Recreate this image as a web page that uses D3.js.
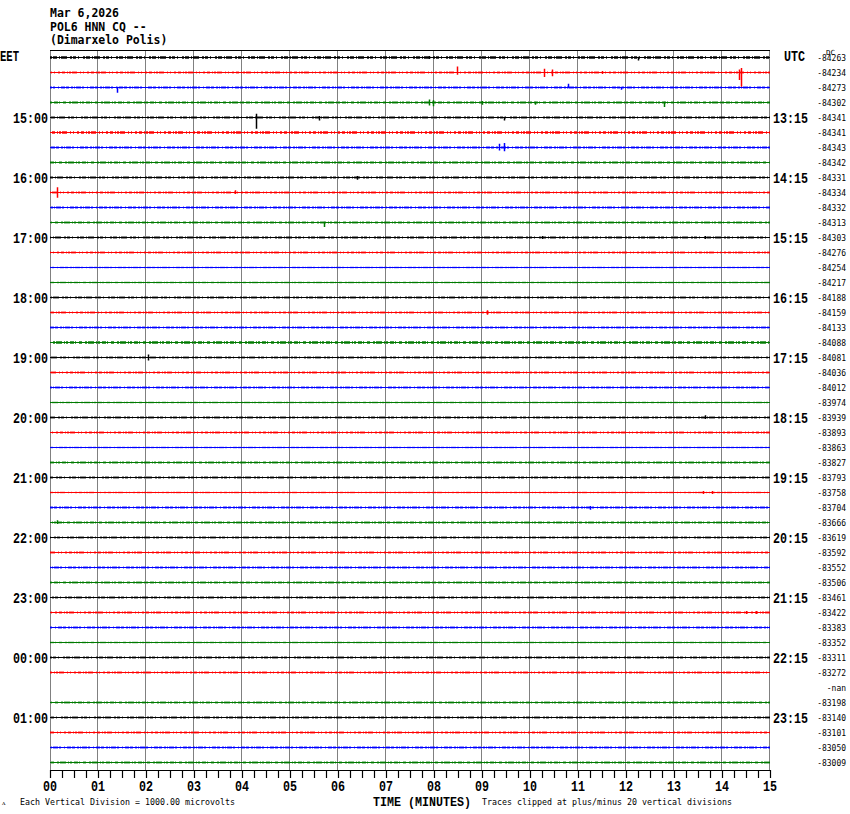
<!DOCTYPE html>
<html><head><meta charset="utf-8">
<script src="https://cdn.jsdelivr.net/npm/d3@7/dist/d3.min.js"></script>
<style>body{margin:0;background:#fff}svg{display:block}</style>
</head><body>
<svg id="c" width="850" height="814"></svg>
<script>
// ---- data ----
const headerLines = ["Mar 6,2026", "POL6 HNN CQ --", "(Dimarxelo Polis)"];
const leftHourLabels = ["15:00","16:00","17:00","18:00","19:00","20:00","21:00","22:00","23:00","00:00","01:00"];
const rightHourLabels = ["13:15","14:15","15:15","16:15","17:15","18:15","19:15","20:15","21:15","22:15","23:15"];
const minuteLabels = ["00","01","02","03","04","05","06","07","08","09","10","11","12","13","14","15"];
const dcValues = ["-84263","-84234","-84273","-84302","-84341","-84341","-84343","-84342",
  "-84331","-84334","-84332","-84313","-84303","-84276","-84254","-84217",
  "-84188","-84159","-84133","-84088","-84081","-84036","-84012","-83974",
  "-83939","-83893","-83863","-83827","-83793","-83758","-83704","-83666",
  "-83619","-83592","-83552","-83506","-83461","-83422","-83383","-83352",
  "-83311","-83272","-nan","-83198","-83140","-83101","-83050","-83009"];
// noise level of each trace (0..1), null = no data
const traceNoise = [0.9,0.6,0.7,0.8, 0.8,0.9,0.8,0.8, 0.8,0.6,0.7,0.6, 0.8,0.5,0.3,0.4,
  0.6,0.5,0.5,0.9, 0.5,0.6,0.5,0.4, 0.6,0.6,0.3,0.6, 0.6,0.4,0.7,0.6,
  0.5,0.6,0.6,0.5, 0.6,0.7,0.6,0.4, 0.6,0.6,null,0.5, 0.6,0.6,0.6,0.6];
// notable spikes: [row, minute, up (divisions), down (divisions)]
const spikes = [
  [0,7.9,0.1,0.1],[0,12.25,0.05,0.2],
  [1,8.48,0.4,0.15],[1,10.3,0.25,0.3],[1,10.45,0.2,0.25],[1,14.35,0.2,0.5],[1,14.4,0.3,0.95],[1,11.5,0.1,0.1],
  [2,1.4,0.05,0.35],[2,10.8,0.25,0.05],[2,11.9,0.05,0.15],
  [3,7.9,0.2,0.2],[3,7.97,0.15,0.25],[3,9.0,0.1,0.15],[3,12.8,0.05,0.3],[3,10.1,0.05,0.15],
  [4,4.3,0.25,0.75],[4,5.6,0.1,0.2],[4,9.45,0.05,0.2],
  [6,9.35,0.25,0.2],[6,9.45,0.3,0.25],
  [8,6.4,0.1,0.15],
  [9,0.15,0.35,0.35],[9,3.85,0.15,0.1],
  [11,5.7,0.05,0.3],
  [12,10.25,0.1,0.1],[12,13.65,0.1,0.1],
  [17,9.1,0.15,0.15],
  [20,2.05,0.2,0.2],
  [24,13.65,0.15,0.1],
  [29,13.6,0.1,0.1],[29,13.8,0.1,0.1],
  [30,11.25,0.1,0.15],
  [31,0.15,0.15,0.1],
  [37,14.5,0.1,0.1],[37,14.7,0.1,0.1]
];
const traceColors = ["#000000","#ff0000","#0000ff","#007a00"];
const footerLeft = "Each Vertical Division = 1000.00 microvolts";
const footerMid = "TIME (MINUTES)";
const footerRight = "Traces clipped at plus/minus 20 vertical divisions";

// ---- drawing ----
const svg = d3.select("#c");
const x = d3.scaleLinear().domain([0,15]).range([50,770]);
const rowY = d3.scaleLinear().domain([0,47]).range([57.5,762.5]);
const div = d3.scaleLinear().domain([-1,1]).range([15,-15]);
const mono = "'DejaVu Sans Mono', monospace";
const serifB = "'Liberation Mono', 'DejaVu Sans Mono', monospace";

// header
headerLines.forEach((t,i)=>{
  svg.append("text").attr("x",50).attr("y",[17,31,44][i]).text(t)
    .attr("font-family",mono).attr("font-weight","bold").attr("font-size",12)
    .attr("textLength",t.length*6.9).attr("lengthAdjust","spacingAndGlyphs");
});

// grid verticals
svg.append("g").selectAll("line").data(d3.range(0,16)).join("line")
  .attr("x1",d=>Math.round(x(d))-0.5+(d===0?1:0)).attr("x2",d=>Math.round(x(d))-0.5+(d===0?1:0))
  .attr("y1",50).attr("y2",770).attr("stroke","#808080").attr("stroke-width",1);
// top border
svg.append("line").attr("x1",x(0)).attr("x2",x(15)).attr("y1",50.5).attr("y2",50.5).attr("stroke","#000");

// traces
const dashPatterns = ["2,1,4,2,1,1,6,3,2,1,3,2,1,4","3,2,1,1,2,1,5,3,1,2,1,3,2,2","1,1,5,1,2,3,1,2,4,1,3,2,2,1","3,3,2,1,6,2,1,1,2,2,4,1,1,3"];
const tg = svg.append("g");
traceNoise.forEach((n,i)=>{
  if(n===null) return;
  const c = traceColors[i%4], y = rowY(i);
  tg.append("line").attr("x1",x(0)).attr("x2",x(15)).attr("y1",y).attr("y2",y)
    .attr("stroke",c).attr("stroke-width",1);
  tg.append("line").attr("x1",x(0)).attr("x2",x(15)).attr("y1",y).attr("y2",y)
    .attr("stroke",c).attr("stroke-width",1.2+1.3*n)
    .attr("stroke-dasharray",dashPatterns[i%4]).attr("stroke-dashoffset",i*17)
    .attr("opacity",0.5+0.5*n);
});
tg.selectAll("line.sp").data(spikes).join("line").attr("class","sp")
  .attr("x1",d=>Math.round(x(d[1]))+0.5).attr("x2",d=>Math.round(x(d[1]))+0.5)
  .attr("y1",d=>rowY(d[0])+div(d[2])).attr("y2",d=>rowY(d[0])+div(-d[3]))
  .attr("stroke",d=>traceColors[d[0]%4]).attr("stroke-width",1.5);

// side labels
svg.append("text").attr("x",0).attr("y",61).text("EET")
  .attr("font-family",serifB).attr("font-weight","bold").attr("font-size",14)
  .attr("textLength",19).attr("lengthAdjust","spacingAndGlyphs");
svg.append("text").attr("x",784).attr("y",61).text("UTC")
  .attr("font-family",serifB).attr("font-weight","bold").attr("font-size",14)
  .attr("textLength",21).attr("lengthAdjust","spacingAndGlyphs");
leftHourLabels.forEach((t,k)=>{
  svg.append("text").attr("x",13).attr("y",rowY(4*(k+1))+5.5).text(t)
    .attr("font-family",serifB).attr("font-weight","bold").attr("font-size",15)
    .attr("textLength",35).attr("lengthAdjust","spacingAndGlyphs");
});
rightHourLabels.forEach((t,k)=>{
  svg.append("text").attr("x",773).attr("y",rowY(4*(k+1))+5.5).text(t)
    .attr("font-family",serifB).attr("font-weight","bold").attr("font-size",15)
    .attr("textLength",35).attr("lengthAdjust","spacingAndGlyphs");
});
// DC values
svg.append("text").attr("x",826).attr("y",55).text("DC")
  .attr("font-family",mono).attr("font-size",7).attr("textLength",9).attr("lengthAdjust","spacingAndGlyphs");
dcValues.forEach((t,i)=>{
  svg.append("text").attr("x",846).attr("y",rowY(i)+3).attr("text-anchor","end").text(t)
    .attr("font-family",mono).attr("font-size",8.5)
    .attr("textLength",t.length*4.8).attr("lengthAdjust","spacingAndGlyphs");
});

// x axis
const ax = d3.axisBottom(x).tickValues(d3.range(0,15.01,0.25)).tickSize(8).tickFormat("").tickSizeOuter(0);
const axg = svg.append("g").attr("transform","translate(0,770)").call(ax);
axg.selectAll("path,line").attr("stroke","#000").attr("stroke-width",1.2);
svg.append("g").selectAll("text").data(minuteLabels).join("text")
  .attr("x",(d,i)=>x(i)).attr("y",791).attr("text-anchor","middle").text(d=>d)
  .attr("font-family",serifB).attr("font-weight","bold").attr("font-size",14)
  .attr("textLength",14).attr("lengthAdjust","spacingAndGlyphs");

// footer
svg.append("text").attr("x",2).attr("y",805).text("ᴧ").attr("font-family",mono).attr("font-size",7);
svg.append("text").attr("x",20).attr("y",805).text(footerLeft)
  .attr("font-family",mono).attr("font-size",8.5).attr("textLength",215).attr("lengthAdjust","spacingAndGlyphs");
svg.append("text").attr("x",373).attr("y",806).text(footerMid)
  .attr("font-family",serifB).attr("font-weight","bold").attr("font-size",12)
  .attr("textLength",98).attr("lengthAdjust","spacingAndGlyphs");
svg.append("text").attr("x",482).attr("y",805).text(footerRight)
  .attr("font-family",mono).attr("font-size",8.5).attr("textLength",250).attr("lengthAdjust","spacingAndGlyphs");
</script>
</body></html>
